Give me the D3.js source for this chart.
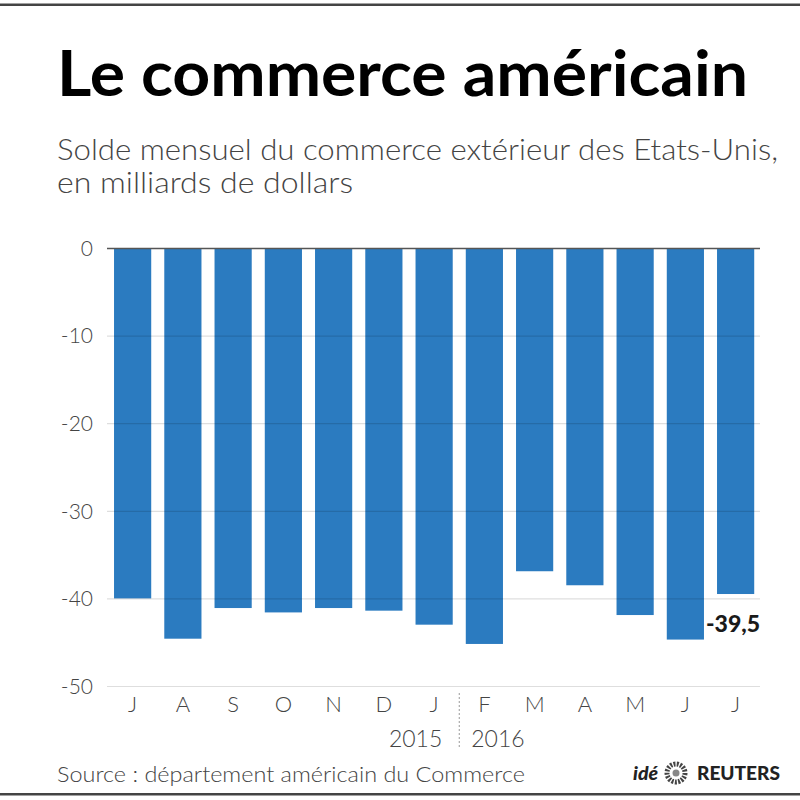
<!DOCTYPE html>
<html><head><meta charset="utf-8">
<script src="https://cdn.jsdelivr.net/npm/d3@7"></script>
<style>body{margin:0;background:#fff}svg{display:block}</style>
</head><body>
<svg id="c" width="800" height="800"></svg>
<script>
const months = ["J","A","S","O","N","D","J","F","M","A","M","J","J"];
const values = [-40.0,-44.6,-41.1,-41.6,-41.1,-41.4,-43.0,-45.2,-36.9,-38.5,-41.9,-44.7,-39.5];
const yTicks = [0,-10,-20,-30,-40,-50];
const years = ["2015","2016"];
const title = "Le commerce américain";
const subtitle = ["Solde mensuel du commerce extérieur des Etats-Unis,","en milliards de dollars"];
const source = "Source : département américain du Commerce";
const lastLabel = "-39,5";

const svg = d3.select("#c");
const F = "Lato, 'Open Sans', sans-serif";
const ids = months.map((m,i)=>i);

// frame lines
svg.append("rect").attr("x",0).attr("y",3.5).attr("width",800).attr("height",2.5).attr("fill","#444");
svg.append("rect").attr("x",0).attr("y",793).attr("width",800).attr("height",2.5).attr("fill","#444");

// title
svg.append("text").attr("x",57).attr("y",96).attr("font-family",F).attr("font-weight",700)
  .attr("font-size",63).attr("fill","#000").attr("textLength",691).attr("lengthAdjust","spacingAndGlyphs").text(title);
svg.append("text").attr("x",57).attr("y",160).attr("font-family",F).attr("font-weight",300)
  .attr("font-size",30).attr("fill","#444").attr("textLength",721).attr("lengthAdjust","spacingAndGlyphs").text(subtitle[0]);
svg.append("text").attr("x",57).attr("y",193).attr("font-family",F).attr("font-weight",300)
  .attr("font-size",30).attr("fill","#444").attr("textLength",296).attr("lengthAdjust","spacingAndGlyphs").text(subtitle[1]);

const x = d3.scaleBand().domain(ids).range([107.5,760.75]).paddingInner(0.26).paddingOuter(0.13);
const y = d3.scaleLinear().domain([0,-50]).range([248,686]);

// bars
svg.append("g").selectAll("rect").data(values).join("rect")
  .attr("x",(d,i)=>x(i)).attr("width",x.bandwidth())
  .attr("y",y(0)).attr("height",d=>y(d)-y(0)).attr("fill","#2b7bc0");

// gridlines via axis
const yAxis = d3.axisLeft(y).tickValues(yTicks).tickSize(-(760-107)).tickFormat(d=>d);
const ga = svg.append("g").attr("transform","translate(107,0)").call(yAxis);
ga.select(".domain").remove();
ga.selectAll(".tick line").attr("stroke","rgba(0,0,0,0.13)").attr("stroke-width",1.2);
ga.selectAll(".tick").filter(d=>d===0).select("line").attr("stroke","#555").attr("stroke-width",1.5);
ga.selectAll(".tick text").attr("x",-14).attr("dy","0.35em").attr("font-family",F).attr("font-weight",300)
  .attr("font-size",21).attr("fill","#444");

// x axis month labels
const xAxis = d3.axisBottom(x).tickFormat(i=>months[i]).tickSize(0);
const gx = svg.append("g").attr("transform","translate(0,694)").call(xAxis);
gx.select(".domain").remove();
gx.selectAll(".tick text").attr("y",0).attr("dy","0.8em").attr("font-family",F).attr("font-weight",300)
  .attr("font-size",22).attr("fill","#444");

// years + separator
const sepX = (x(6)+x.bandwidth()+x(7))/2;
svg.append("text").attr("x",sepX-17).attr("y",747).attr("text-anchor","end").attr("font-family",F).attr("font-weight",300)
  .attr("font-size",23).attr("fill","#444").text(years[0]);
svg.append("text").attr("x",sepX+12).attr("y",747).attr("text-anchor","start").attr("font-family",F).attr("font-weight",300)
  .attr("font-size",23).attr("fill","#444").text(years[1]);
svg.append("line").attr("x1",sepX).attr("x2",sepX).attr("y1",693).attr("y2",748)
  .attr("stroke","#999").attr("stroke-width",1).attr("stroke-dasharray","2,2");

// last value label
const li = values.length-1;
svg.append("text").attr("x",x(li)-11).attr("y",y(values[li])+38).attr("font-family",F).attr("font-weight",900)
  .attr("font-size",23).attr("fill","#1a1a1a").text(lastLabel);

// source
svg.append("text").attr("x",57).attr("y",782).attr("font-family",F).attr("font-weight",300).attr("font-size",22).attr("fill","#444")
  .attr("textLength",468).attr("lengthAdjust","spacingAndGlyphs").text(source);

// logo
svg.append("text").attr("x",633).attr("y",780).attr("font-family",F).attr("font-weight",900).attr("font-style","italic")
  .attr("font-size",19).attr("fill","#222").attr("textLength",25).attr("lengthAdjust","spacingAndGlyphs").text("idé");
const lg = svg.append("g").attr("transform","translate(676,773)");
lg.append("circle").attr("r",9).attr("fill","none").attr("stroke","#444").attr("stroke-width",5).attr("stroke-dasharray","2,1.3");
lg.append("circle").attr("r",3.5).attr("fill","#888");
svg.append("text").attr("x",697).attr("y",780).attr("font-family",F).attr("font-weight",900)
  .attr("font-size",19).attr("fill","#222").attr("textLength",83).attr("lengthAdjust","spacingAndGlyphs").text("REUTERS");
</script>
</body></html>
